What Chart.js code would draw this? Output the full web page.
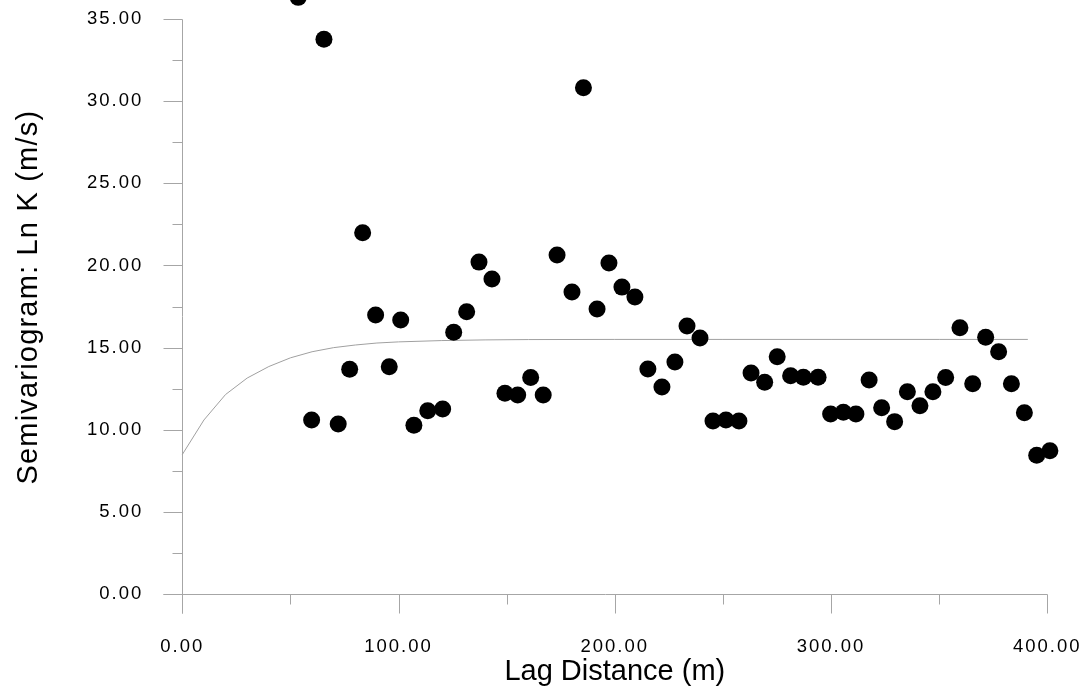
<!DOCTYPE html>
<html>
<head>
<meta charset="utf-8">
<title>Semivariogram</title>
<script src="https://cdn.jsdelivr.net/npm/chart.js@4/dist/chart.umd.min.js"></script>
<style>
  html, body { margin: 0; padding: 0; background: #ffffff; }
  canvas { display: block; }
</style>
</head>
<body>
<canvas id="chart" width="1088" height="695"></canvas>
<script>
// Experimental semivariogram: lag distance (m) and semivariance of Ln K
const lagDistance = [53.6, 59.8, 65.5, 72.1, 77.4, 83.4, 89.4, 95.7, 101.0, 107.1,
  113.5, 120.4, 125.5, 131.5, 137.2, 143.2, 149.2, 155.1, 161.1, 166.9,
  173.3, 180.2, 185.5, 191.8, 197.3, 203.3, 209.3, 215.3, 221.8, 227.8,
  233.4, 239.4, 245.4, 251.4, 257.4, 263.0, 269.3, 275.1, 281.3, 287.2,
  294.0, 299.8, 305.7, 311.5, 317.6, 323.4, 329.4, 335.3, 341.1, 347.1,
  353.0, 359.6, 365.5, 371.5, 377.5, 383.4, 389.4, 395.1, 401.2];
const semivariance = [36.3, 10.6, 33.75, 10.36, 13.68, 21.99, 16.98, 13.84, 16.68, 10.28,
  11.16, 11.27, 15.93, 17.18, 20.2, 19.17, 12.22, 12.12, 13.19, 12.12,
  20.63, 18.38, 30.8, 17.35, 20.14, 18.68, 18.08, 13.7, 12.6, 14.13,
  16.32, 15.59, 10.54, 10.6, 10.54, 13.46, 12.89, 14.45, 13.29, 13.2,
  13.2, 10.96, 11.07, 10.96, 13.03, 11.35, 10.5, 12.32, 11.47, 12.32,
  13.19, 16.21, 12.81, 15.63, 14.75, 12.81, 11.04, 8.45, 8.73];

// Fitted model curve
const modelLag = [0, 10, 20, 30, 40, 50, 60, 70, 80, 90, 100, 120, 140, 160, 200, 250, 300, 350, 391];
const modelGamma = [8.5, 10.6, 12.15, 13.15, 13.85, 14.38, 14.75, 15.0, 15.16, 15.28,
  15.35, 15.43, 15.47, 15.49, 15.5, 15.5, 15.5, 15.5, 15.5];

// Axis ticks
const xMajorTicks = [0, 100, 200, 300, 400];
const xMinorTicks = [50, 150, 250, 350];
const yMajorTicks = [0, 5, 10, 15, 20, 25, 30, 35];
const yMinorTicks = [2.5, 7.5, 12.5, 17.5, 22.5, 27.5, 32.5];

const AXIS_COLOR = '#a6a6a6';
const TEXT_COLOR = '#000000';
const FONT = "'Liberation Sans', Arial, Helvetica, sans-serif";

const pointData = lagDistance.map((x, i) => ({ x: x, y: semivariance[i] }));
const modelData = modelLag.map((x, i) => ({ x: x, y: modelGamma[i] }));

// Letter spacing per scale part (tick labels and titles)
const spacing = {
  x: { labels: '2px', title: '0px' },
  y: { labels: '2px', title: '1.2px' }
};

const spacingPlugin = {
  id: 'spacing',
  afterLayout(chart) {
    Object.keys(spacing).forEach(id => {
      const s = chart.scales[id];
      if (!s || s.__spaced) return;
      const dl = s.drawLabels.bind(s);
      const dt = s.drawTitle.bind(s);
      s.drawLabels = function (area) {
        const ctx = this.ctx; ctx.save(); ctx.letterSpacing = spacing[id].labels; dl(area); ctx.restore();
      };
      s.drawTitle = function (area) {
        const ctx = this.ctx; ctx.save(); ctx.letterSpacing = spacing[id].title; dt(area); ctx.restore();
      };
      s.__spaced = true;
    });
  }
};

// Axis lines with long major and short minor tick marks
const axesPlugin = {
  id: 'axes',
  beforeDatasetsDraw(chart) {
    const ctx = chart.ctx;
    const xs = chart.scales.x, ys = chart.scales.y;
    const snap = v => Math.round(v) + 0.5;
    const x0 = snap(xs.getPixelForValue(0));
    const y0 = snap(ys.getPixelForValue(0));
    const majorLen = 19, minorLen = 10;
    ctx.save();
    ctx.strokeStyle = AXIS_COLOR;
    ctx.lineWidth = 1;
    ctx.beginPath();
    // vertical axis: from top tick down past the horizontal axis
    ctx.moveTo(x0, snap(ys.getPixelForValue(yMajorTicks[yMajorTicks.length - 1])));
    ctx.lineTo(x0, y0 + majorLen);
    // horizontal axis
    ctx.moveTo(x0 - majorLen, y0);
    ctx.lineTo(snap(xs.getPixelForValue(xMajorTicks[xMajorTicks.length - 1])), y0);
    yMajorTicks.forEach(v => {
      const p = snap(ys.getPixelForValue(v));
      ctx.moveTo(x0 - majorLen, p); ctx.lineTo(x0, p);
    });
    yMinorTicks.forEach(v => {
      const p = snap(ys.getPixelForValue(v));
      ctx.moveTo(x0 - minorLen, p); ctx.lineTo(x0, p);
    });
    xMajorTicks.forEach(v => {
      const p = snap(xs.getPixelForValue(v));
      ctx.moveTo(p, y0); ctx.lineTo(p, y0 + majorLen);
    });
    xMinorTicks.forEach(v => {
      const p = snap(xs.getPixelForValue(v));
      ctx.moveTo(p, y0); ctx.lineTo(p, y0 + minorLen);
    });
    ctx.stroke();
    ctx.restore();
  }
};

const fmt = v => (Math.abs(v % 5) < 1e-9 ? v.toFixed(2) : '');
const fmtX = v => (Math.abs(v % 100) < 1e-9 ? v.toFixed(2) : '');

new Chart(document.getElementById('chart'), {
  type: 'scatter',
  data: {
    datasets: [
      {
        label: 'Experimental',
        data: pointData,
        backgroundColor: '#000000',
        borderWidth: 0,
        pointRadius: 8.5,
        pointHoverRadius: 8.5,
        showLine: false,
        clip: false
      },
      {
        label: 'Model',
        data: modelData,
        showLine: true,
        borderColor: '#a0a0a0',
        borderWidth: 1,
        pointRadius: 0,
        pointHoverRadius: 0,
        tension: 0,
        fill: false,
        clip: false
      }
    ]
  },
  options: {
    responsive: false,
    devicePixelRatio: 1,
    animation: false,
    layout: { autoPadding: false, padding: { top: 0, right: 40.7, bottom: 0, left: 0 } },
    plugins: { legend: { display: false }, tooltip: { enabled: false } },
    scales: {
      x: {
        type: 'linear',
        min: 0,
        max: 400,
        grid: { display: false, drawTicks: false },
        border: { display: false },
        afterBuildTicks: s => { s.ticks = xMajorTicks.concat(xMinorTicks).sort((a, b) => a - b).map(v => ({ value: v })); },
        afterFit: s => { s.height = 100.7; s.paddingLeft = 0; s.paddingRight = 0; },
        ticks: {
          autoSkip: false,
          maxRotation: 0,
          padding: 42,
          color: TEXT_COLOR,
          font: { family: FONT, size: 18.5 },
          callback: v => fmtX(v)
        },
        title: {
          display: true,
          text: 'Lag Distance (m)',
          color: TEXT_COLOR,
          font: { family: FONT, size: 29, lineHeight: 1.2 },
          padding: { top: 0, bottom: 6 }
        }
      },
      y: {
        type: 'linear',
        min: 0,
        max: 36.14,
        grid: { display: false, drawTicks: false },
        border: { display: false },
        afterBuildTicks: s => { s.ticks = yMajorTicks.concat(yMinorTicks).sort((a, b) => a - b).map(v => ({ value: v })); },
        afterFit: s => { s.width = 182.3; s.paddingTop = 0; s.paddingBottom = 0; },
        ticks: {
          autoSkip: false,
          padding: 39,
          color: TEXT_COLOR,
          font: { family: FONT, size: 18.5 },
          callback: v => fmt(v)
        },
        title: {
          display: true,
          text: 'Semivariogram: Ln K (m/s)',
          color: TEXT_COLOR,
          font: { family: FONT, size: 29, lineHeight: 1.2 },
          padding: { top: 12, bottom: 0 }
        }
      }
    }
  },
  plugins: [spacingPlugin, axesPlugin]
});
</script>
</body>
</html>
